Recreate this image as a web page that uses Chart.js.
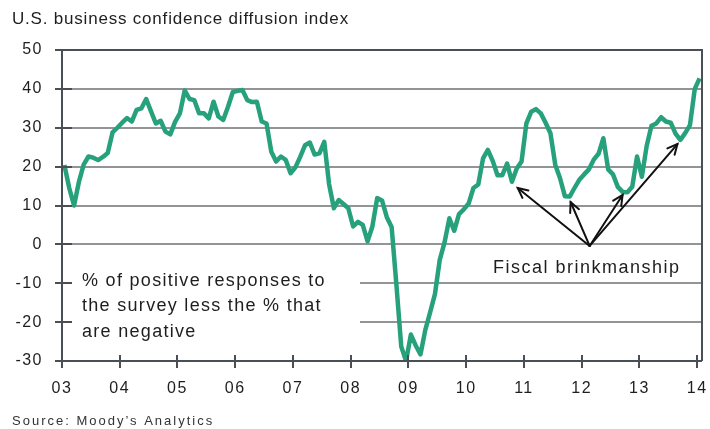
<!DOCTYPE html>
<html>
<head>
<meta charset="utf-8">
<script src="https://cdn.jsdelivr.net/npm/chart.js@4.4.1/dist/chart.umd.min.js"></script>
<style>
  html, body { margin: 0; padding: 0; background: #ffffff; }
  #wrap { width: 710px; height: 429px; }
</style>
</head>
<body>
<div id="wrap"><canvas id="c" width="710" height="429"></canvas></div>
<script>
// ---- Data (monthly, Jan 2003 .. Jan 2014) ----
const yearLabels = ['03','04','05','06','07','08','09','10','11','12','13','14'];
const yTicks = [50, 40, 30, 20, 10, 0, -10, -20, -30];
const values = [
  20.4, 14.5, 10.0, 16.0, 20.5, 22.6, 22.3, 21.7, 22.5, 23.5, 28.8, 30.0,   // 2003
  31.3, 32.5, 31.6, 34.6, 35.0, 37.4, 34.2, 31.1, 31.8, 29.0, 28.3, 31.5,   // 2004
  33.7, 39.6, 37.4, 37.1, 33.7, 33.7, 32.4, 36.7, 32.9, 32.0, 35.4, 39.2,   // 2005
  39.5, 39.7, 37.1, 36.6, 36.7, 31.6, 31.1, 23.8, 21.3, 22.6, 21.7, 18.3,   // 2006
  19.8, 22.5, 25.5, 26.2, 23.1, 23.4, 26.4, 15.5, 9.3, 11.4, 10.4, 9.3,     // 2007
  4.6, 5.8, 5.0, 0.8, 4.6, 11.9, 11.3, 7.0, 4.5, -10.5, -26.3, -30.0,      // 2008
  -23.2, -26.0, -28.3, -22.0, -17.5, -12.8, -4.0, 0.5, 6.7, 3.5, 7.8, 9.0,  // 2009
  10.5, 14.5, 15.4, 22.1, 24.3, 21.5, 17.8, 17.8, 20.8, 16.1, 19.5, 21.3,   // 2010
  31.1, 34.1, 34.8, 33.7, 31.3, 28.6, 20.5, 17.0, 12.4, 12.3, 14.5, 16.6,   // 2011
  18.0, 19.3, 21.8, 23.3, 27.3, 19.3, 18.0, 14.8, 13.5, 13.4, 14.8, 22.6,   // 2012
  17.4, 25.3, 30.5, 31.1, 32.7, 31.6, 31.3, 28.5, 26.9, 28.6, 30.7, 40.0,   // 2013
  42.7                                                                     // 2014
];
// Arrows for "Fiscal brinkmanship": origin and targets in (month index, value)
const arrowOrigin = [109.65, -0.4];
const arrowTargets = [[94.7, 14.5], [105.7, 10.9], [116.5, 12.7], [127.9, 25.8]];
const titleText = 'U.S. business confidence diffusion index';
const sourceText = 'Source: Moody\u2019s Analytics';
const noteLines = ['% of positive responses to', 'the survey less the % that', 'are negative'];
const arrowLabel = 'Fiscal brinkmanship';

const points = values.map((v, i) => ({ x: i + 0.5, y: v }));
const FONT = '"Liberation Sans", Arial, Helvetica, sans-serif';
const AXIS_COLOR = '#4a4f55';
const GRID_COLOR = '#929497';
const LINE_COLOR = '#27a07c';
const TEXT_COLOR = '#1e1e1e';

const decor = {
  id: 'decor',
  beforeDraw(chart) {
    chart.ctx.letterSpacing = '1.5px';
  },
  beforeDatasetsDraw(chart) {
    const ctx = chart.ctx;
    const a = chart.chartArea;
    ctx.save();
    ctx.fillStyle = '#ffffff';
    ctx.fillRect(a.left + 10, 256, 288, 92);
    ctx.restore();
  },
  afterDraw(chart) {
    const ctx = chart.ctx;
    const a = chart.chartArea;
    const xs = chart.scales.x, ys = chart.scales.y;
    ctx.save();
    ctx.strokeStyle = AXIS_COLOR;
    ctx.lineWidth = 2;
    ctx.beginPath();
    ctx.moveTo(a.left, a.top); ctx.lineTo(a.right, a.top); ctx.lineTo(a.right, a.bottom);
    ctx.stroke();
    ctx.beginPath();
    ctx.moveTo(a.left, a.top); ctx.lineTo(a.left, a.bottom); ctx.lineTo(a.right, a.bottom);
    ctx.stroke();
    yTicks.forEach(v => {
      const py = Math.round(ys.getPixelForValue(v));
      ctx.beginPath();
      ctx.moveTo(a.left - 7, py); ctx.lineTo(a.left + 10, py);
      ctx.stroke();
    });
    yearLabels.forEach((l, i) => {
      const px = Math.round(xs.getPixelForValue(i * 12));
      ctx.beginPath();
      ctx.moveTo(px, a.bottom - 6); ctx.lineTo(px, a.bottom + 7);
      ctx.stroke();
    });

    ctx.fillStyle = TEXT_COLOR;
    ctx.textBaseline = 'middle';
    ctx.textAlign = 'left';
    ctx.letterSpacing = '0.8px';
    ctx.font = '17px ' + FONT;
    ctx.fillText(titleText, 12, 19);
    ctx.letterSpacing = '2px';
    ctx.font = '13px ' + FONT;
    ctx.fillStyle = '#333';
    ctx.fillText(sourceText, 12, 421);
    ctx.fillStyle = TEXT_COLOR;
    ctx.letterSpacing = '1.3px';
    ctx.font = '18px ' + FONT;
    noteLines.forEach((t, i) => ctx.fillText(t, 82, 281 + i * 25.5));
    ctx.letterSpacing = '1.5px';
    ctx.fillText(arrowLabel, 493, 268);

    const ox = xs.getPixelForValue(arrowOrigin[0]);
    const oy = ys.getPixelForValue(arrowOrigin[1]);
    ctx.strokeStyle = '#111';
    ctx.lineWidth = 2;
    ctx.lineCap = 'round';
    arrowTargets.forEach(t => {
      const tx = xs.getPixelForValue(t[0]);
      const ty = ys.getPixelForValue(t[1]);
      ctx.beginPath();
      ctx.moveTo(ox, oy); ctx.lineTo(tx, ty);
      ctx.stroke();
      const ang = Math.atan2(ty - oy, tx - ox);
      const L = 11, w = 0.45;
      ctx.beginPath();
      ctx.moveTo(tx - L * Math.cos(ang - w), ty - L * Math.sin(ang - w));
      ctx.lineTo(tx, ty);
      ctx.lineTo(tx - L * Math.cos(ang + w), ty - L * Math.sin(ang + w));
      ctx.stroke();
    });
    ctx.restore();
  }
};

new Chart(document.getElementById('c'), {
  type: 'line',
  data: {
    datasets: [{
      data: points,
      borderColor: LINE_COLOR,
      borderWidth: 4.5,
      pointRadius: 0,
      tension: 0,
      borderJoinStyle: 'round',
      borderCapStyle: 'butt',
      fill: false
    }]
  },
  options: {
    responsive: false,
    animation: false,
    events: [],
    layout: { padding: { top: 50, right: 8, left: 0, bottom: 0 } },
    plugins: { legend: { display: false }, tooltip: { enabled: false } },
    scales: {
      x: {
        type: 'linear',
        min: 0,
        max: 133,
        afterBuildTicks(scale) { scale.ticks = yearLabels.map((l, i) => ({ value: i * 12 })); },
        afterFit(scale) { scale.height = 68; scale.paddingLeft = 0; scale.paddingRight = 0; },
        ticks: {
          autoSkip: false,
          maxRotation: 0,
          padding: 18,
          color: TEXT_COLOR,
          font: { family: FONT, size: 16 },
          callback(v, i) { return yearLabels[i]; }
        },
        grid: { display: false, drawTicks: false },
        border: { display: false }
      },
      y: {
        min: -30,
        max: 50,
        afterBuildTicks(scale) { scale.ticks = yTicks.map(v => ({ value: v })); },
        afterFit(scale) { scale.width = 62; scale.paddingTop = 0; scale.paddingBottom = 0; },
        ticks: {
          padding: 19,
          color: TEXT_COLOR,
          font: { family: FONT, size: 16 },
          callback(v) { return String(v); }
        },
        grid: { color: GRID_COLOR, lineWidth: 2, drawTicks: false },
        border: { display: false }
      }
    }
  },
  plugins: [decor]
});
</script>
</body>
</html>
